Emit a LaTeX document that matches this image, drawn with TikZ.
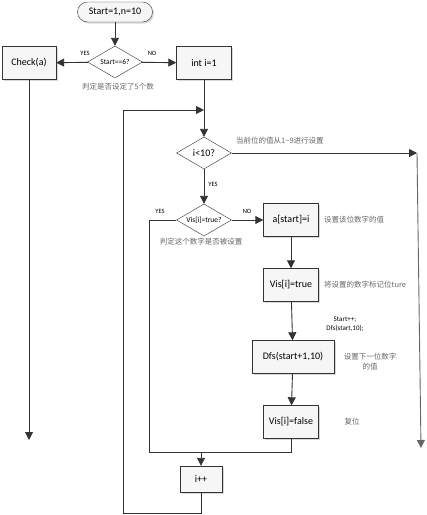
\documentclass[tikz,border=0pt]{standalone}
\usepackage{fontspec}
\setmainfont{Carlito}
\newfontfamily\cjk{Noto Sans CJK SC}
\usetikzlibrary{arrows.meta,shapes.geometric,shadows}
\tikzset{
  box/.style={draw=black!80,fill=gray!7,minimum width=55pt,minimum height=33pt,
    inner sep=2pt,drop shadow={shadow xshift=1.5pt,shadow yshift=-1.5pt,fill=black!30},
    font=\fontsize{10}{12}\selectfont},
  test/.style={diamond,draw=black!80,fill=white,aspect=1.7,inner sep=0pt,
    minimum width=55pt,minimum height=32pt,font=\fontsize{7.5}{9}\selectfont},
  arr/.style={draw=black!80,line width=0.9pt,-{Triangle[length=8pt,width=8pt]}},
  wire/.style={draw=black!80,line width=0.9pt},
  tag/.style={font=\fontsize{6.5}{8}\selectfont,inner sep=1pt},
  note/.style={font=\cjk\fontsize{7.5}{10}\selectfont,text=black!60,inner sep=1pt},
}

\begin{document}
\begin{tikzpicture}[x=1pt,y=-1pt]
  \useasboundingbox (0,0) rectangle (427,515);
  % nodes
  \node[box,rounded corners=10pt,minimum width=75pt,minimum height=20pt] (start) at (115,12) {Start=1,n=10};
  \node[test] (t1) at (115,62) {Start==6?};
  \node[box,minimum width=54pt] (check) at (29,63) {Check(a)};
  \node[box] (init) at (204,63) {int i=1};
  \node[test,font=\fontsize{10}{12}\selectfont] (t2) at (204,153) {i<10?};
  \node[test] (t3) at (204,220) {Vis[i]=true?};
  \node[box] (seta) at (291,220) {a[start]=i};
  \node[box] (mark) at (291,285) {Vis[i]=true};
  \node[box,minimum width=82pt] (dfs) at (293,357) {Dfs(start+1,10)};
  \node[box] (reset) at (291,422) {Vis[i]=false};
  \node[box,minimum width=42pt,minimum height=26pt] (ipp) at (201,479) {i++};
  \coordinate (merge) at (204,110);
  \coordinate (far) at (417,153);
  \coordinate (farend) at (421,448);
  \coordinate (checkend) at (29,440);
  \coordinate (join) at (201,452);
  % connectors
  \draw[arr] (start) -- (t1);
  \draw[arr] (t1) -- (check);
  \draw[arr] (t1) -- (init);
  \draw[arr] (check) -- (checkend);
  \draw[arr] (init) -- (t2);
  \draw[arr] (t2) -- (far);
  \draw[arr,draw=black!60] (far) -- (farend);
  \draw[arr] (t2) -- (t3);
  \draw[arr] (t3) -- (seta);
  \draw[arr] (seta) -- (mark);
  \draw[arr] (mark) -- (dfs);
  \draw[arr] (dfs) -- (reset);
  \draw[arr] (reset.south) |- (join) -- (ipp.north);
  \draw[wire] (t3.west) -| (149,452) -- (join);
  \draw[arr] (ipp.south) |- (123,513) -- (123,110) -- (merge);
  % labels
  \node[tag] at (85,53) {YES};
  \node[tag] at (152,53) {NO};
  \node[tag] at (213,184) {YES};
  \node[tag] at (160,211) {YES};
  \node[tag] at (247,211) {NO};
  \node[tag,font=\fontsize{7}{9}\selectfont,align=center] at (345,324) {Start++;\\Dfs(start,10);};
  \node[note] at (118,87) {判定是否设定了5个数};
  \node[note,anchor=west] at (235,141) {当前位的值从1\textasciitilde9进行设置};
  \node[note] at (201,242) {判定这个数字是否被设置};
  \node[note,anchor=west] at (323,220) {设置该位数字的值};
  \node[note,anchor=west] at (323,285) {将设置的数字标记位ture};
  \node[note,align=center] at (370,362) {设置下一位数字\\的值};
  \node[note] at (352,422) {复位};
\end{tikzpicture}
\end{document}
